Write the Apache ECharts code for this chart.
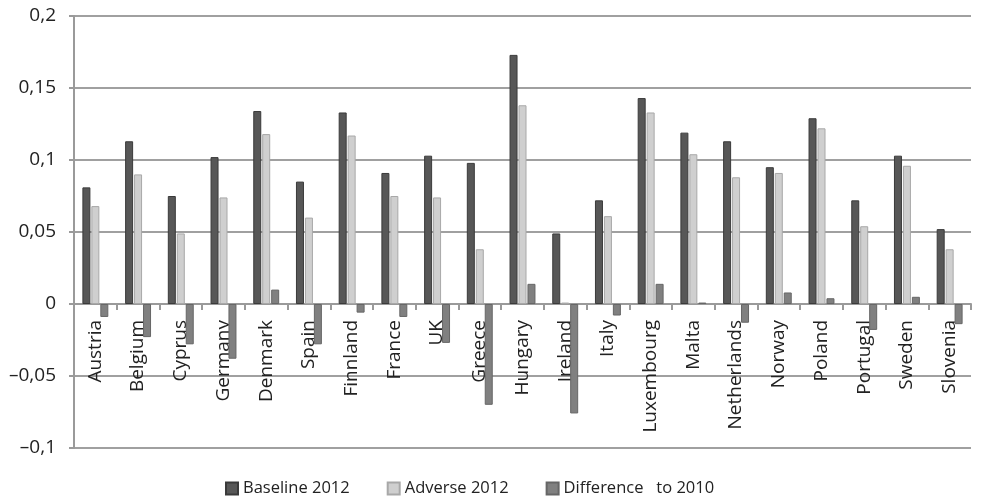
<!DOCTYPE html>
<html>
<head>
<meta charset="utf-8">
<script src="https://cdn.jsdelivr.net/npm/echarts@6/dist/echarts.min.js"></script>
<style>html,body{margin:0;padding:0;background:#fff;}#c{width:981px;height:499px;}</style>
</head>
<body>
<div id="c"></div>
<script>
const categories = ["Austria","Belgium","Cyprus","Germany","Denmark","Spain","Finnland","France","UK","Greece","Hungary","Ireland","Italy","Luxembourg","Malta","Netherlands","Norway","Poland","Portugal","Sweden","Slovenia"];
const baseline2012 = [0.081,0.113,0.075,0.102,0.134,0.085,0.133,0.091,0.103,0.098,0.173,0.049,0.072,0.143,0.119,0.113,0.095,0.129,0.072,0.103,0.052];
const adverse2012 = [0.068,0.090,0.049,0.074,0.118,0.060,0.117,0.075,0.074,0.038,0.138,0.001,0.061,0.133,0.104,0.088,0.091,0.122,0.054,0.096,0.038];
const difference2010 = [-0.009,-0.023,-0.028,-0.038,0.010,-0.028,-0.006,-0.009,-0.027,-0.070,0.014,-0.076,-0.008,0.014,0.001,-0.013,0.008,0.004,-0.018,0.005,-0.014];
const seriesNames = ["Baseline 2012","Adverse 2012","Difference   to 2010"];
const yTicks = {min:-0.1,max:0.2,interval:0.05};

const fmt = v => {
  if (Math.abs(v) < 1e-9) return "0";
  const s = String(Math.round(Math.abs(v)*100)/100).replace(".", ",");
  return (v < 0 ? "\u2013" : "") + s;
};

const chart = echarts.init(document.getElementById('c'), null, {renderer:'canvas'});
const font = "Open Sans";
chart.setOption({
  animation:false,
  backgroundColor:'#fff',
  textStyle:{fontFamily:font},
  grid:{left:74,right:10,top:16,bottom:51,containLabel:false,outerBoundsMode:'none'},
  legend:{
    bottom:2,left:225,padding:0,itemWidth:12,itemHeight:12,itemGap:37,icon:'rect',
    textStyle:{fontFamily:font,fontSize:16.5,color:'#222'},
    data:seriesNames
  },
  xAxis:{
    type:'category',data:categories,
    axisLine:{onZero:true,lineStyle:{color:'#9a9a9a',width:2}},
    axisTick:{show:true,length:6,lineStyle:{color:'#9a9a9a',width:2}},
    axisLabel:{rotate:90,fontSize:19,color:'#222',margin:-128,interval:0,fontFamily:font},
    splitLine:{show:false}
  },
  yAxis:{
    type:'value',min:yTicks.min,max:yTicks.max,interval:yTicks.interval,
    axisLine:{show:true,lineStyle:{color:'#9a9a9a',width:2}},
    axisTick:{show:true,length:5,lineStyle:{color:'#9a9a9a',width:2}},
    axisLabel:{fontSize:19,color:'#222',margin:18,formatter:fmt,fontFamily:font},
    splitLine:{show:true,lineStyle:{color:'#a0a0a0',width:2}}
  },
  series:[
    {name:seriesNames[0],type:'bar',data:baseline2012,barWidth:8,barGap:'12%',
     itemStyle:{color:'#575757',borderColor:'#3a3a3a',borderWidth:1}},
    {name:seriesNames[1],type:'bar',data:adverse2012,barWidth:8,
     itemStyle:{color:'#cfcfcf',borderColor:'#a8a8a8',borderWidth:1}},
    {name:seriesNames[2],type:'bar',data:difference2010,barWidth:8,
     itemStyle:{color:'#808080',borderColor:'#666',borderWidth:1}}
  ]
});
</script>
</body>
</html>
